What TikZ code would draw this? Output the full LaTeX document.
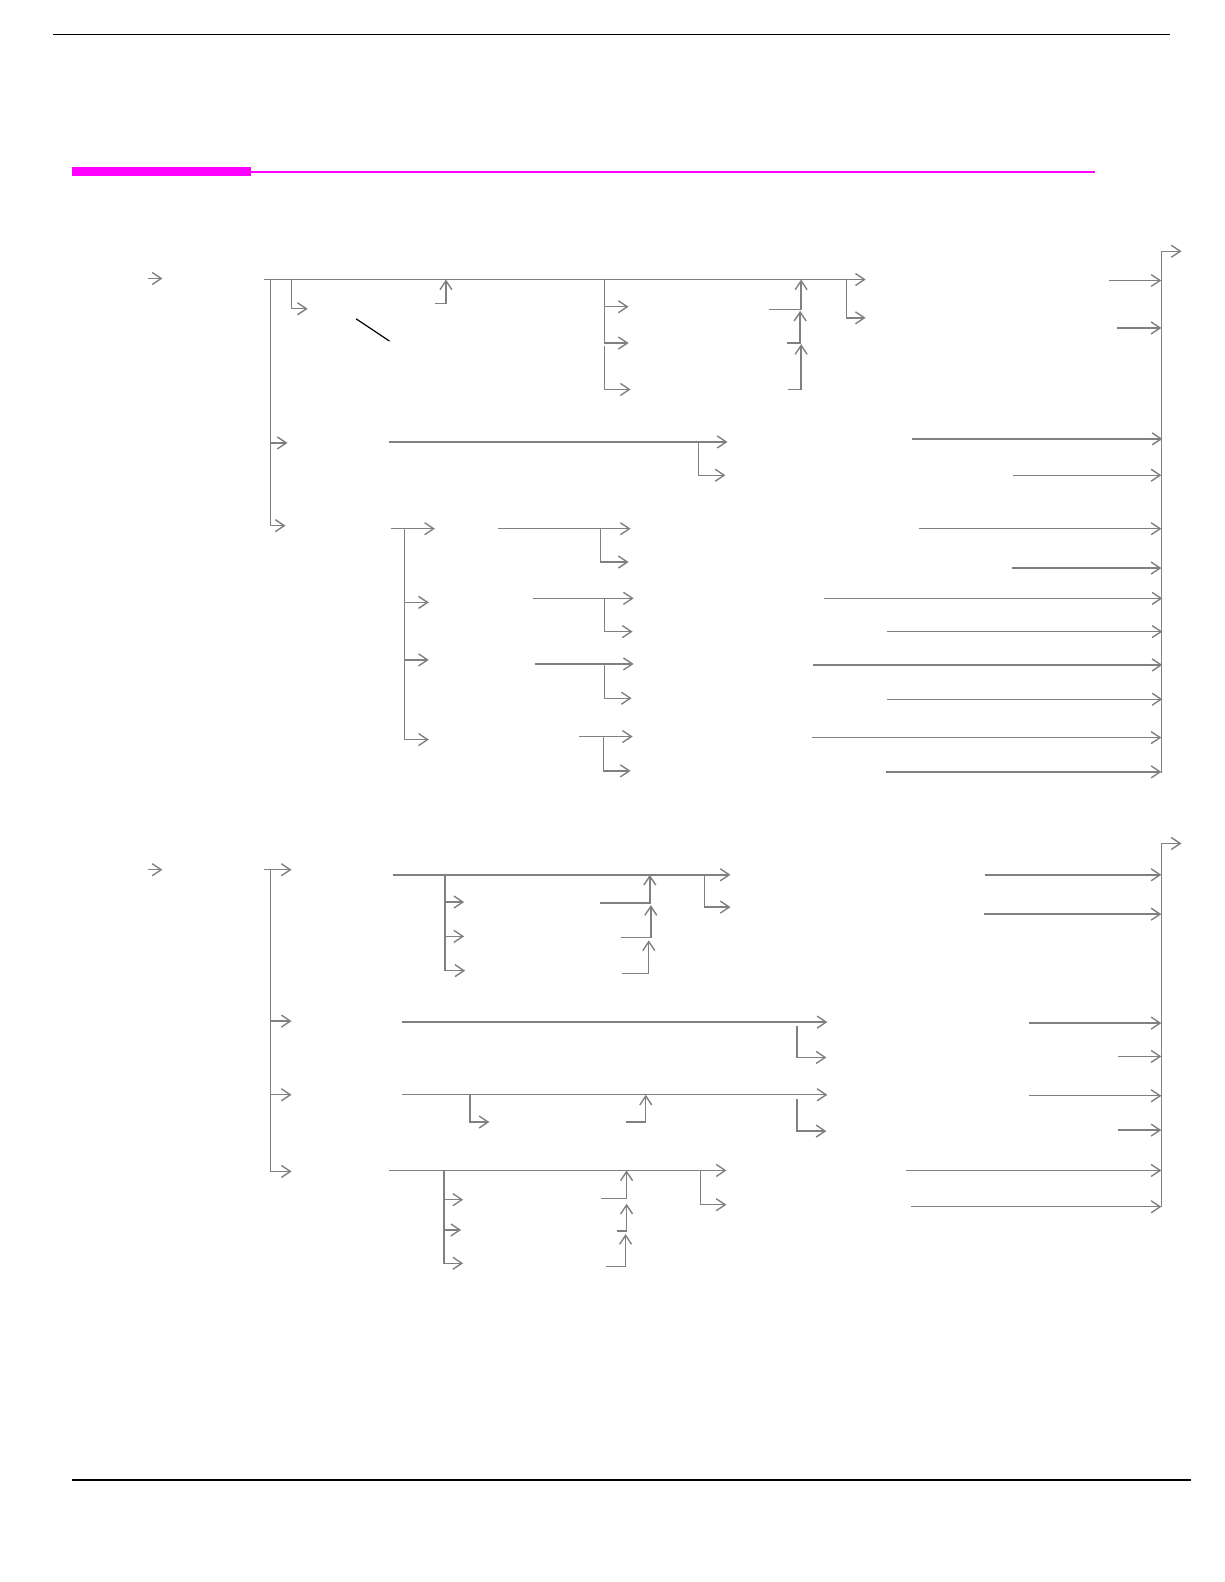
\documentclass[tikz,border=0pt]{standalone}
\usetikzlibrary{arrows.meta}
\definecolor{flowgray}{RGB}{128,128,128}
\definecolor{barmagenta}{RGB}{255,0,255}
\tikzset{
  flow/.style={draw=flowgray,line width=0.7pt,-{Straight Barb[length=4.5pt,width=6pt]}},
  plain/.style={draw=flowgray,line width=0.7pt},
  rule/.style={draw=black,line width=0.8pt}
}
\begin{document}
\begin{tikzpicture}[x=0.5045pt,y=-0.5045pt]
  \useasboundingbox (0,0) rectangle (1213.1,1567.9);
  % page rules
  \draw[rule] (53,34) -- (1160,34);
  \fill[barmagenta] (71,166) rectangle (249,174);
  \draw[barmagenta,line width=1pt] (249,170) -- (1085,170);
  \draw[rule] (71,1467) -- (1180,1467);

  % first diagram
  \draw[flow] (147,276) -- (161,276);
  \draw[flow] (262,277) -- (858,277);
  \draw[flow] (268,277) |- (285,439);
  \draw[flow] (268,439) |- (283,521);
  \draw[flow] (289,277) |- (305,306);
  \draw[flow] (431,301) -| (442,277);
  \draw[black,line width=0.6pt] (353,316) -- (386,338);
  \draw[flow] (599,277) |- (623,304);
  \draw[flow] (599,304) |- (623,340);
  \draw[flow] (599,343) |- (625,386);
  \draw[flow] (762,307) -| (794,277);
  \draw[flow] (780,340) -| (793,308);
  \draw[flow] (781,386) -| (794,341);
  \draw[flow] (839,277) |- (858,315);
  % right collector
  \draw[flow] (1151,766) |- (1171,249);
  \draw[flow] (1099,278) -- (1151,278);
  \draw[flow] (1107,325) -- (1151,325);
  \draw[flow] (904,435) -- (1152,435);
  \draw[flow] (1004,471) -- (1151,471);
  \draw[flow] (911,524) -- (1151,524);
  \draw[flow] (1003,563) -- (1151,563);
  \draw[flow] (817,593) -- (1152,593);
  \draw[flow] (879,626) -- (1152,626);
  \draw[flow] (806,659) -- (1152,659);
  \draw[flow] (879,693) -- (1152,693);
  \draw[flow] (805,731) -- (1151,731);
  \draw[flow] (878,765) -- (1151,765);
  % middle rows
  \draw[flow] (386,438) -- (721,438);
  \draw[flow] (692,438) |- (719,471);
  \draw[flow] (388,524) -- (431,524);
  \draw[flow] (401,524) |- (425,597);
  \draw[flow] (401,597) |- (425,654);
  \draw[flow] (401,654) |- (425,733);
  \draw[flow] (494,524) -- (625,524);
  \draw[flow] (595,524) |- (623,557);
  \draw[flow] (528,593) -- (628,593);
  \draw[flow] (599,593) |- (627,626);
  \draw[flow] (530,658) -- (628,658);
  \draw[flow] (599,658) |- (626,692);
  \draw[flow] (574,730) -- (627,730);
  \draw[flow] (598,730) |- (625,764);

  % second diagram
  \draw[flow] (147,862) -- (161,862);
  \draw[flow] (262,862) -- (289,862);
  \draw[flow] (268,862) |- (289,1012);
  \draw[flow] (268,1012) |- (289,1085);
  \draw[flow] (268,1085) |- (289,1161);
  \draw[flow] (389,867) -- (724,867);
  \draw[flow] (441,867) |- (460,894);
  \draw[flow] (441,894) |- (460,928);
  \draw[flow] (441,928) |- (461,962);
  \draw[flow] (595,895) -| (644,867);
  \draw[flow] (615,929) -| (645,897);
  \draw[flow] (616,965) -| (643,932);
  \draw[flow] (698,867) |- (724,899);
  % right collector
  \draw[flow] (1151,1196) |- (1171,836);
  \draw[flow] (976,867) -- (1151,867);
  \draw[flow] (975,906) -- (1151,906);
  \draw[flow] (1020,1014) -- (1151,1014);
  \draw[flow] (1108,1047) -- (1151,1047);
  \draw[flow] (1020,1086) -- (1151,1086);
  \draw[flow] (1108,1120) -- (1151,1120);
  \draw[flow] (898,1160) -- (1151,1160);
  \draw[flow] (903,1196) -- (1151,1196);
  % lower rows
  \draw[flow] (398,1013) -- (820,1013);
  \draw[flow] (790,1017) |- (819,1048);
  \draw[flow] (398,1085) -- (820,1085);
  \draw[flow] (466,1085) |- (485,1112);
  \draw[flow] (620,1112) -| (640,1085);
  \draw[flow] (790,1089) |- (819,1121);
  \draw[flow] (386,1160) -- (720,1160);
  \draw[flow] (694,1160) |- (720,1194);
  \draw[flow] (440,1160) |- (459,1189);
  \draw[flow] (440,1189) |- (457,1219);
  \draw[flow] (440,1219) |- (459,1252);
  \draw[flow] (596,1188) -| (621,1160);
  \draw[flow] (611,1220) -| (621,1193);
  \draw[flow] (601,1255) -| (620,1223);
\end{tikzpicture}
\end{document}
